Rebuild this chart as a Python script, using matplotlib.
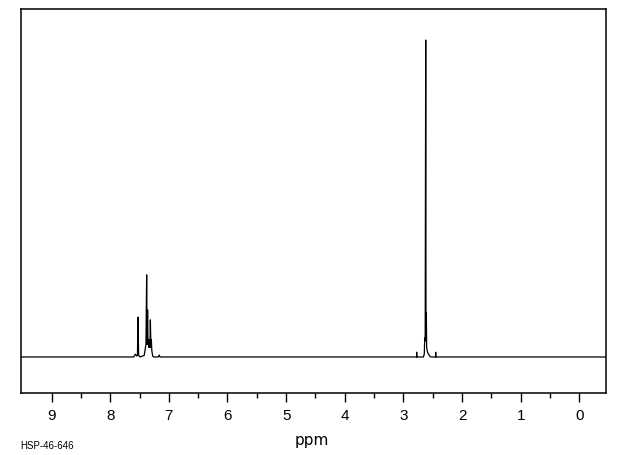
import matplotlib.pyplot as plt
import numpy as np

# trace points (ppm, relative intensity, tallest = 100)
ppm = [9.7, 7.60, 7.57, 7.55, 7.535, 7.525, 7.515, 7.49,
       7.42, 7.405, 7.39, 7.378, 7.37, 7.362, 7.355, 7.345, 7.337,
       7.33, 7.322, 7.315, 7.305, 7.298, 7.29, 7.275, 7.26,
       7.18, 7.165, 7.15,
       2.80, 2.776, 2.775, 2.774,
       2.66, 2.645, 2.638, 2.63, 2.621, 2.616, 2.611, 2.605,
       2.59, 2.57, 2.55, 2.53,
       2.452, 2.451, 2.450, -0.7]
intensity = [0, 0, 0.9, 0.3, 0.5, 12.6, 0.5, 0,
             0.5, 2.2, 4, 25.9, 4, 14.8, 4, 5.4, 3,
             5.5, 3, 11.7, 3, 5.4, 2, 0.3, 0,
             0, 0.6, 0,
             0, 0, 1.5, 0,
             0, 1, 6, 5.5, 100, 5, 14, 3,
             1.5, 0.8, 0.2, 0,
             0, 1.5, 0, 0]

major_ticks = np.arange(0, 10, 1)
minor_ticks = np.arange(0.5, 9.0, 1)

fig = plt.figure(figsize=(6.2, 4.55), dpi=100)
ax = fig.add_axes([0.0334, 0.1363, 0.944, 0.8439])
ax.plot(ppm, intensity, color='k', linewidth=0.9)

ax.set_xlim(9.525, -0.452)
ax.set_ylim(-11.36, 109.78)
ax.set_yticks([])
ax.set_xticks(major_ticks)
ax.set_xticks(minor_ticks, minor=True)
ax.tick_params(axis='x', which='major', direction='out', length=6.5, width=1,
               pad=5)
ax.tick_params(axis='x', which='minor', direction='out', length=3.6, width=1)
for lab in ax.get_xticklabels():
    lab.set_fontfamily('Liberation Sans')
    lab.set_fontsize(11)
for s in ax.spines.values():
    s.set_linewidth(1.1)

fig.text(0.503, 0.021, 'ppm', fontsize=11, ha='center', va='baseline',
         family='DejaVu Sans')
fig.text(0.032, 0.0132, 'HSP-46-646', fontsize=7, ha='left', va='baseline',
         family='Liberation Sans')

plt.savefig('out.png', dpi=100)
